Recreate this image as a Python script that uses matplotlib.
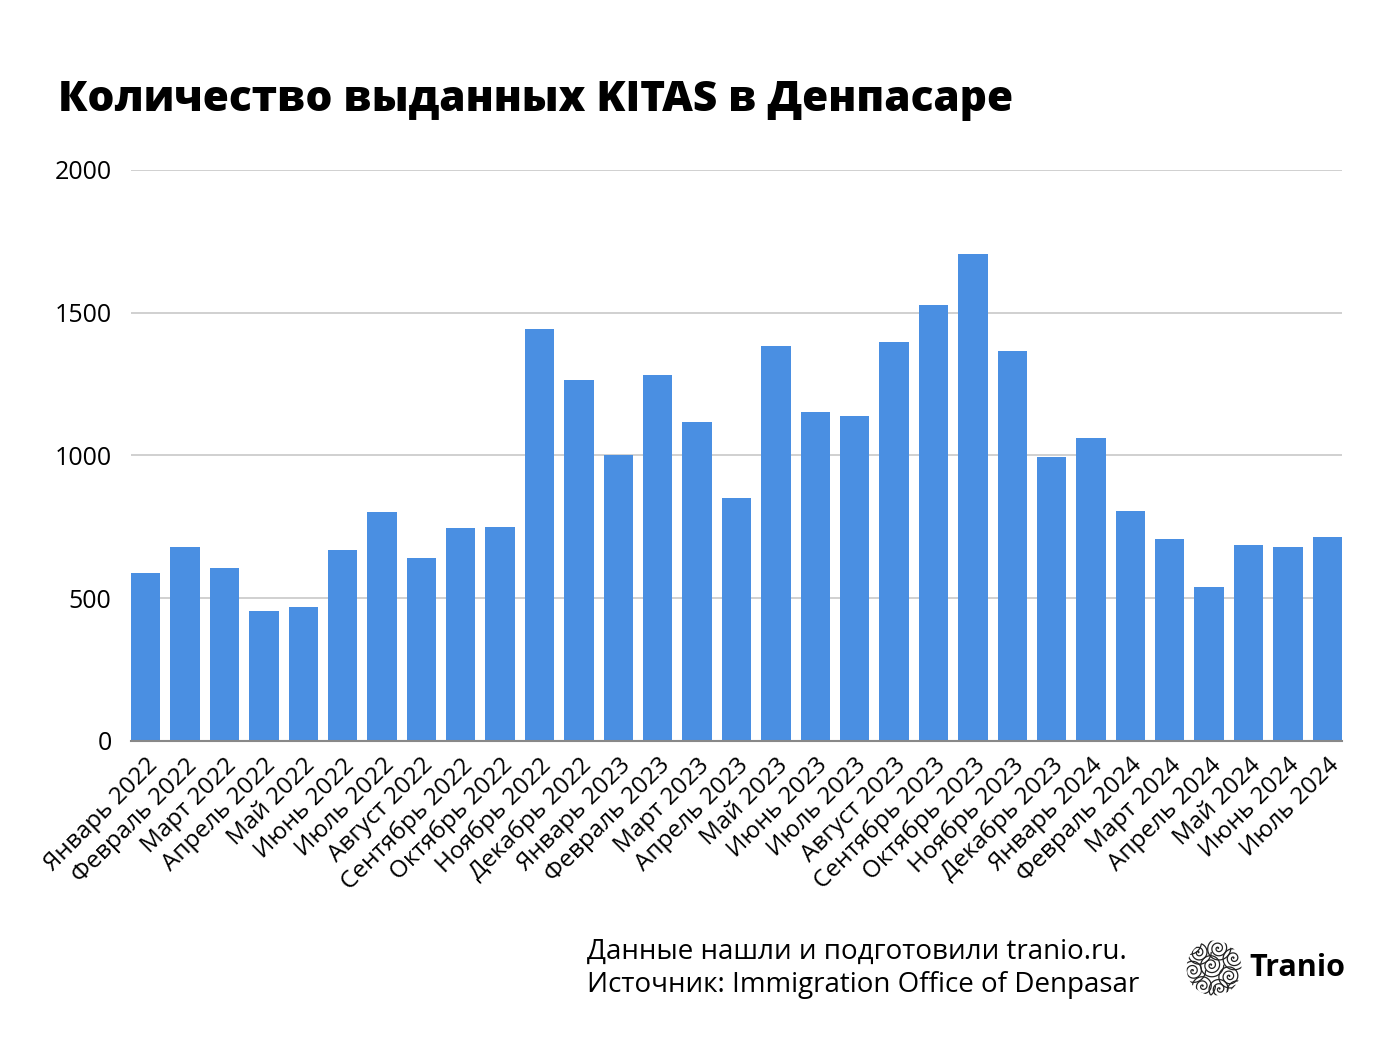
import numpy as np
import matplotlib
matplotlib.use("Agg")
import matplotlib.pyplot as plt
from matplotlib.patches import Circle

months = ["Январь 2022", "Февраль 2022", "Март 2022", "Апрель 2022", "Май 2022",
          "Июнь 2022", "Июль 2022", "Август 2022", "Сентябрь 2022", "Октябрь 2022",
          "Ноябрь 2022", "Декабрь 2022", "Январь 2023", "Февраль 2023", "Март 2023",
          "Апрель 2023", "Май 2023", "Июнь 2023", "Июль 2023", "Август 2023",
          "Сентябрь 2023", "Октябрь 2023", "Ноябрь 2023", "Декабрь 2023",
          "Январь 2024", "Февраль 2024", "Март 2024", "Апрель 2024", "Май 2024",
          "Июнь 2024", "Июль 2024"]
values = [588, 680, 606, 455, 469, 669, 802, 641, 746, 748,
          1443, 1265, 1002, 1282, 1117, 851, 1384, 1152, 1138, 1398,
          1527, 1706, 1366, 995, 1061, 806, 708, 539, 687, 680, 715]
yticks = [0, 500, 1000, 1500, 2000]

title = "Количество выданных KITAS в Денпасаре"
footer1 = "Данные нашли и подготовили tranio.ru."
footer2 = "Источник: Immigration Office of Denpasar"

plt.rcParams['font.family'] = ['Open Sans', 'DejaVu Sans']

W, H = 1386, 1040
fig = plt.figure(figsize=(W / 100, H / 100), dpi=100)
fig.patch.set_facecolor('white')

ax = fig.add_axes([131 / W, 1 - 741 / H, (1342 - 131) / W, (741 - 170) / H])
x = np.arange(len(values))
bw = 0.745
ax.bar(x, values, width=bw, color='#4a8fe2', zorder=3)
ax.set_xlim(-bw / 2, len(values) - 1 + bw / 2)
ax.set_ylim(0, 2000)
ax.set_yticks(yticks)
ax.set_yticklabels([str(v) for v in yticks])
ax.yaxis.grid(True, color='#c8c8c8', linewidth=1.2, zorder=0)
ax.set_axisbelow(True)
for s in ['top', 'right', 'left']:
    ax.spines[s].set_visible(False)
ax.spines['bottom'].set_color('#888888')
ax.spines['bottom'].set_linewidth(1.5)
ax.spines['bottom'].set_zorder(4)
ax.tick_params(axis='y', length=0, pad=14, labelsize=18)
ax.tick_params(axis='x', length=0, pad=9)
ax.set_xticks(x)
ax.set_xticklabels(months, rotation=45, ha='right', rotation_mode='anchor', fontsize=17.5)

fig.text(58 / W, 1 - 100 / H, title, fontsize=30.5, fontweight='heavy',
         ha='left', va='center', color='black')

fig.text(587 / W, 1 - 952 / H, footer1, fontsize=20, ha='left', va='center', color='black')
fig.text(587 / W, 1 - 985 / H, footer2, fontsize=20, ha='left', va='center', color='black')

# Logo: circle filled with little spirals
lax = fig.add_axes([1186 / W, 1 - 996 / H, 56 / W, 56 / H])
lax.set_xlim(-1, 1)
lax.set_ylim(-1, 1)
lax.set_aspect('equal')
lax.axis('off')
clip = Circle((0, 0), 0.98, transform=lax.transData, facecolor='none', edgecolor='none')
lax.add_patch(clip)
centers = [(-0.55, 0.55), (0.15, 0.7), (0.7, 0.35), (-0.75, -0.1), (-0.1, 0.1),
           (0.55, -0.3), (-0.4, -0.65), (0.2, -0.75), (0.85, -0.8), (-0.9, 0.9)]
t = np.linspace(0, 6 * np.pi, 300)
for (cx, cy) in centers:
    r = 0.45 * t / t[-1]
    ln, = lax.plot(cx + r * np.cos(t), cy + r * np.sin(t), color='#222222', lw=0.9)
    ln.set_clip_path(clip)
fig.text(1249 / W, 1 - 968 / H, "Tranio", fontsize=22, fontweight='bold',
         ha='left', va='center', color='black')

fig.savefig('out.png', dpi=100, facecolor='white')
